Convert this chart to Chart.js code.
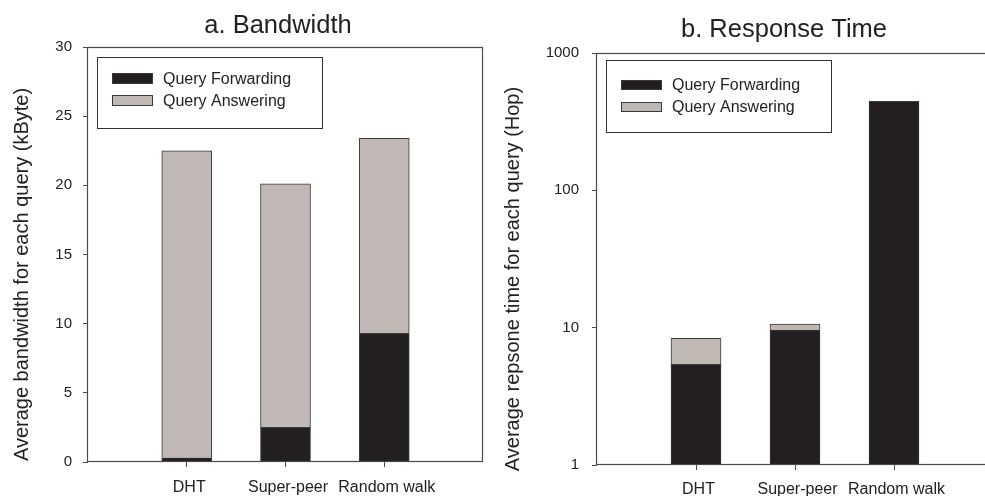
<!DOCTYPE html>
<html>
<head>
<meta charset="utf-8">
<script src="https://cdn.jsdelivr.net/npm/chart.js@4.4.1/dist/chart.umd.min.js"></script>
<style>
  html, body { margin: 0; padding: 0; background: #fff; overflow: hidden; width: 985px; height: 496px; }
  .wrap { position: absolute; top: 0; height: 496px; overflow: hidden; }
</style>
</head>
<body>
<div class="wrap" style="left:0px; width:492px;"><canvas id="bw" width="492" height="496"></canvas></div>
<div class="wrap" style="left:492px; width:493px;"><canvas id="rt" width="502" height="496"></canvas></div>
<script>
// ---- data ----
const categories = ['DHT', 'Super-peer', 'Random walk'];
const seriesNames = ['Query Forwarding', 'Query Answering'];
const bwForwarding = [0.3, 2.5, 9.3];
const bwAnswering = [22.2, 17.6, 14.1];
const rtForwarding = [5.4, 9.6, 444];
const rtAnswering = [2.95, 1.0, null];
const bwTickStep = 5;
const bwMax = 30;
const rtTicks = [1, 10, 100, 1000];
const chartTitles = ['a. Bandwidth', 'b. Response Time'];
const yTitles = ['Average bandwidth for each query (kByte)', 'Average repsone time for each query (Hop)'];

// empty slot on each side so categories sit at 1/4, 2/4, 3/4 of the axis
const xLabels = ['', ...categories, ''];
const pad = arr => [null, ...arr, null];

const FONT = "'Liberation Sans', Arial, Helvetica, sans-serif";
const TEXT = '#222';
const LINE = '#4a4a4a';
const FWD = '#231f20';
const ANS = '#c0b8b5';
const BORDER = '#3a3a3a';

const decor = {
  id: 'decor',
  afterDraw(chart, args, o) {
    const { ctx, chartArea: a } = chart;
    ctx.save();
    // frame
    ctx.strokeStyle = LINE;
    ctx.lineWidth = 1.2;
    const l = Math.round(a.left) - 0.5, t = Math.round(a.top) + 0.5;
    const r = Math.round(a.right) - 0.5, b = Math.round(a.bottom) - 0.5;
    ctx.strokeRect(l, t, r - l, b - t);
    // legend
    const lx = a.left + o.legend.dx, ly = a.top + o.legend.dy;
    ctx.lineWidth = 1;
    ctx.strokeStyle = '#333';
    ctx.strokeRect(Math.round(lx) + 0.5, Math.round(ly) + 0.5, o.legend.w, o.legend.h);
    ctx.font = '16px ' + FONT;
    ctx.textBaseline = 'middle';
    ctx.textAlign = 'left';
    chart.data.datasets.forEach((ds, i) => {
      const sy = ly + o.legend.rowY[i];
      ctx.fillStyle = ds.backgroundColor;
      ctx.fillRect(lx + 15, sy - o.legend.sh / 2, 41, o.legend.sh);
      ctx.strokeStyle = ds.borderColor;
      ctx.strokeRect(Math.round(lx + 15) + 0.5, Math.round(sy - o.legend.sh / 2) + 0.5, 40, o.legend.sh - 1);
      ctx.fillStyle = TEXT;
      ctx.fillText(ds.label, lx + 66, sy + 1);
    });
    // chart title
    ctx.font = '25.5px ' + FONT;
    ctx.textAlign = 'center';
    ctx.textBaseline = 'alphabetic';
    ctx.fillStyle = TEXT;
    ctx.fillText(o.title, a.left + o.titleDx, o.titleY);
    // y axis title
    ctx.font = '20px ' + FONT;
    ctx.translate(o.yTitleX, o.yTitleY);
    ctx.rotate(-Math.PI / 2);
    ctx.textBaseline = 'middle';
    ctx.fillText(o.yTitle, 0, 0);
    ctx.restore();
  }
};

function xScale(height, padding) {
  return {
    type: 'category',
    stacked: true,
    offset: false,
    border: { display: false },
    grid: {
      offset: false,
      drawOnChartArea: false,
      drawTicks: true,
      tickLength: 5,
      color: c => (c.index === 0 || c.index === xLabels.length - 1) ? 'rgba(0,0,0,0)' : LINE
    },
    ticks: { color: TEXT, font: { family: FONT, size: 16 }, padding: padding, labelOffset: 2.5, maxRotation: 0, autoSkip: false },
    afterFit: s => { s.height = height; s.paddingLeft = 0; s.paddingRight = 0; }
  };
}

function datasets(fwd, ans) {
  return [
    { label: seriesNames[0], data: pad(fwd), backgroundColor: FWD, borderColor: BORDER, borderWidth: 1, barThickness: 50 },
    { label: seriesNames[1], data: pad(ans), backgroundColor: ANS, borderColor: BORDER, borderWidth: 1, barThickness: 50 }
  ];
}

new Chart(document.getElementById('bw'), {
  type: 'bar',
  data: { labels: xLabels, datasets: datasets(bwForwarding, bwAnswering) },
  plugins: [decor],
  options: {
    responsive: false,
    animation: false,
    layout: { padding: { left: 0, right: 9, top: 47, bottom: 0 } },
    plugins: {
      legend: { display: false },
      tooltip: { enabled: false },
      title: { display: false },
      decor: {
        title: chartTitles[0], titleDx: 190, titleY: 32.5,
        yTitle: yTitles[0], yTitleX: 22, yTitleY: 274.5,
        legend: { dx: 9, dy: 10, w: 225, h: 71, sh: 11, rowY: [21.5, 43.5] }
      }
    },
    scales: {
      x: xScale(34, 11),
      y: {
        stacked: true,
        min: 0, max: bwMax,
        border: { display: false },
        grid: { drawOnChartArea: false, drawTicks: true, tickLength: 5, color: LINE },
        ticks: { stepSize: bwTickStep, color: TEXT, font: { family: FONT, size: 15 }, padding: 11 },
        afterFit: s => { s.width = 88; }
      }
    }
  }
});

new Chart(document.getElementById('rt'), {
  type: 'bar',
  data: { labels: xLabels, datasets: datasets(rtForwarding, rtAnswering) },
  plugins: [decor],
  options: {
    responsive: false,
    animation: false,
    layout: { padding: { left: 0, right: 1, top: 53, bottom: 0 } },
    plugins: {
      legend: { display: false },
      tooltip: { enabled: false },
      title: { display: false },
      decor: {
        title: chartTitles[1], titleDx: 187, titleY: 37,
        yTitle: yTitles[1], yTitleX: 21, yTitleY: 279,
        legend: { dx: 9, dy: 7, w: 225, h: 72, sh: 10, rowY: [25, 47] }
      }
    },
    scales: {
      x: xScale(31, 10),
      y: {
        type: 'logarithmic',
        stacked: true,
        min: rtTicks[0], max: rtTicks[rtTicks.length - 1],
        border: { display: false },
        grid: { drawOnChartArea: false, drawTicks: true, tickLength: 5, color: LINE },
        ticks: { color: TEXT, font: { family: FONT, size: 15 }, padding: 13, callback: v => String(v) },
        afterBuildTicks: s => { s.ticks = rtTicks.map(v => ({ value: v })); },
        afterFit: s => { s.width = 105; }
      }
    }
  }
});
</script>
</body>
</html>
